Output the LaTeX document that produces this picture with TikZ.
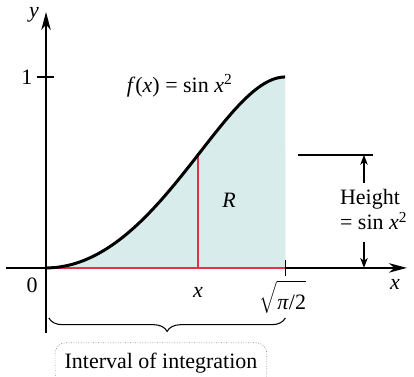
\documentclass[tikz,border=0pt]{standalone}
\usepackage{fontspec}
\setmainfont{Liberation Serif}
\usepackage{xcolor}
\usepackage{tikz}
\usetikzlibrary{arrows.meta,decorations.pathreplacing}
\definecolor{softteal}{HTML}{D8EDEB}
\definecolor{redline}{HTML}{E3314C}
\definecolor{boxgray}{HTML}{8C8C8C}

\begin{document}
\begin{tikzpicture}[x=3.82cm,y=3.82cm,font=\fontsize{12.5}{14.5}\selectfont]
\tikzset{axis/.style={-{Stealth[length=3.6mm,width=1.9mm,inset=1.1mm]}, line width=.85pt}, curve/.style={line width=1.7pt, black}, redl/.style={draw=redline, line width=1.2pt}, tick/.style={line width=.85pt}, arr/.style={-{Stealth[length=2mm,width=1.5mm,inset=.6mm]}, line width=.7pt}, brc/.style={decorate, decoration={brace,mirror,amplitude=0.27cm}, line width=.6pt}, tag/.style={draw=boxgray, densely dotted, rounded corners=6pt, inner xsep=0.19cm, inner ysep=0.21cm}}
\useasboundingbox (-0.241,-0.571) rectangle (1.927,1.403);
\coordinate (O) at (0,0); \coordinate (xs) at (-0.209,0); \coordinate (xe) at (1.890,0); \coordinate (ys) at (0,-0.340); \coordinate (ye) at (0,1.340);
\coordinate (xend) at (1.2533,0); \coordinate (bot) at (0.796,0); \coordinate (top) at (0.796,{sin(0.796*0.796 r)});
% region under the curve
\fill[softteal] (O) -- plot[domain=0:1.2533,samples=80,smooth] (\x,{sin(\x*\x r)}) -- (xend) -- cycle;
\draw[axis] (xs) -- (xe); \draw[axis] (ys) -- (ye);
\draw[redl] (O) -- (xend); \draw[redl] (bot) -- (top);
\draw[curve] plot[domain=0:1.2533,samples=80,smooth] (\x,{sin(\x*\x r)});
\draw[tick] (-0.047,1) -- (0.042,1); \draw[tick] (1.2533,0.042) -- (1.2533,-0.040);
\node (ylab) at (-0.063,1.325) {\textit{y}};
\node (xlab) at (1.827,-0.089) {\textit{x}};
\node (one) at (-0.10,1) {1};
\node (zero) at (-0.073,-0.089) {0};
\node (xpt) at (0.796,-0.126) {\textit{x}};
\node (root) at (1.241,-0.152) {$\sqrt{\mbox{\textit{π}/2}\rule{0pt}{1.05em}}$};
\node (fname) at (0.70,0.953) {\textit{f}(\textit{x}) = sin \textit{x}\textsuperscript{2}};
\node (R) at (0.958,0.356) {\textit{R}};
% height marker
\coordinate (hl) at (1.319,0.592); \coordinate (hr) at (1.712,0.592); \coordinate (hup) at (1.665,0.592); \coordinate (hdn) at (1.665,0);
\draw[tick] (hl) -- (hr);
\node[align=left, anchor=west, inner sep=1pt] (height) at (1.529,0.306) {Height\\= sin \textit{x}\textsuperscript{2}};
\coordinate (hs1) at (1.665,0.445); \coordinate (hs2) at (1.665,0.136);
\draw[arr] (hs1) -- (hup); \draw[arr] (hs2) -- (hdn);
% interval
\coordinate (bl) at (0.015,-0.262); \coordinate (br) at (1.2533,-0.262);
\draw[brc] (bl) -- (br);
\node[tag] (interval) at (0.602,-0.50) {Interval of integration};
\end{tikzpicture}
\end{document}
